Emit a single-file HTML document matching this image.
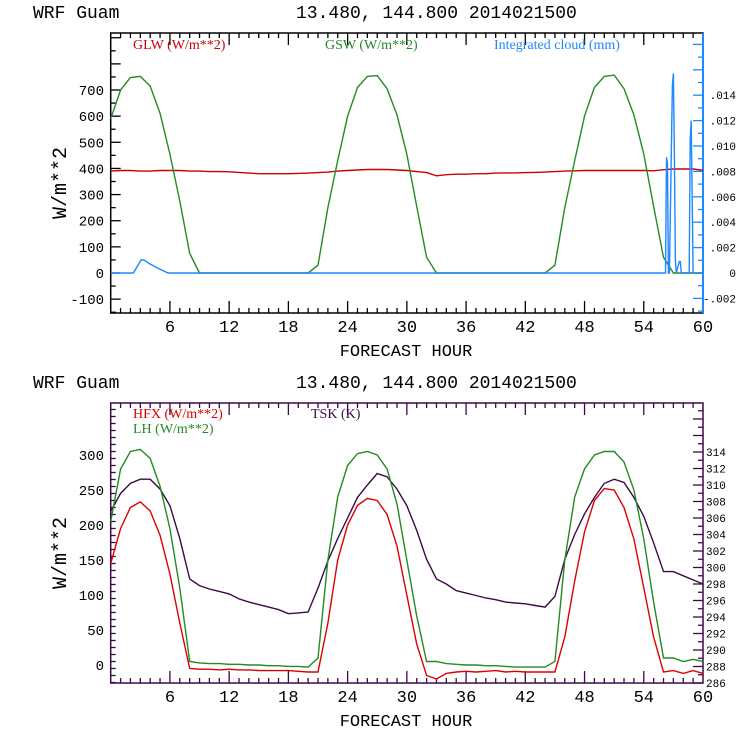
<!DOCTYPE html>
<html><head><meta charset="utf-8">
<style>
html,body{margin:0;padding:0;background:#fff;}
svg{display:block;}
text{font-family:"Liberation Mono",monospace;}
.leg{font-family:"Liberation Serif",serif;font-size:14px;}
</style></head>
<body>
<svg id="chart" width="740" height="740" viewBox="0 0 740 740" xmlns="http://www.w3.org/2000/svg">
<g id="top"></g>
<g id="bot"></g>
</svg>
<script>
// ---------- data ----------
const hours = Array.from({length:61},(_,i)=>i);
const gswValues = [590,700,748,752,715,610,455,275,75,0,0,0,0,0,0,0,0,0,0,0,0,30,250,430,600,710,752,755,705,605,455,255,60,0,0,0,0,0,0,0,0,0,0,0,0,30,250,430,600,710,752,757,705,605,455,255,60,0,0,0,0];
const glwValues = [390,392,392,390,390,392,392,392,390,390,388,388,387,385,382,380,380,380,380,381,382,384,386,390,392,394,396,396,396,394,392,388,384,372,376,378,378,380,380,382,383,383,384,385,386,388,390,391,392,392,392,392,392,392,392,391,395,398,398,398,393];
const cloudHours = [0,2.3,3.1,3.4,4,5,5.8,56.2,56.3,56.4,56.5,56.6,56.9,57.0,57.1,57.2,57.3,57.6,57.7,57.8,58.6,58.7,58.8,58.9,59.0,60];
const cloudValues = [0,0,0.00105,0.001,0.0007,0.0003,0,0,0.0091,0.0086,0,0,0.0148,0.0157,0.0092,0.001,0,0.0009,0.0009,0,0,0.0105,0.012,0.0065,0,0];
const hfxValues = [145,195,225,233,220,185,130,60,-5,-6,-6,-7,-6,-7,-7,-8,-8,-8,-8,-9,-10,-10,60,150,200,228,238,235,215,170,100,30,-15,-20,-12,-10,-9,-10,-9,-8,-10,-9,-10,-10,-10,-10,40,120,190,235,252,250,225,180,110,40,-10,-8,-12,-8,-12];
const lhValues = [205,280,305,308,295,255,195,110,5,3,2,2,1,1,0,0,-1,-1,-2,-2,-3,10,150,240,285,302,305,300,280,230,150,70,5,5,2,1,0,0,-1,-1,-2,-3,-3,-3,-3,5,150,240,280,300,305,305,290,250,180,90,10,10,5,8,5];
const tskValues = [306.8,309,310.2,310.7,310.7,309.5,307.5,303.5,298.6,297.8,297.4,297.1,296.8,296.2,295.8,295.5,295.2,294.9,294.4,294.5,294.6,297.5,300.8,303.5,306,308.5,310,311.4,311,309.5,307.5,304.5,301,298.6,298,297.2,296.9,296.6,296.3,296.1,295.8,295.7,295.6,295.4,295.2,296.5,301,304,306.5,308.5,310.2,310.7,310.3,308.5,306.2,303,299.5,299.5,299,298.5,298];
const xTicks = [6,12,18,24,30,36,42,48,54,60];
const topLeftTicks = [-100,0,100,200,300,400,500,600,700];
const topRightTicks = [-0.002,0,0.002,0.004,0.006,0.008,0.010,0.012,0.014];
const topRightLabels = ["-.002","0",".002",".004",".006",".008",".010",".012",".014"];
const botLeftTicks = [0,50,100,150,200,250,300];
const botRightTicks = [286,288,290,292,294,296,298,300,302,304,306,308,310,312,314];

// ---------- helpers ----------
const NS="http://www.w3.org/2000/svg";
function mk(parent,tag,attrs,txt){const e=document.createElementNS(NS,tag);for(const k in attrs)e.setAttribute(k,attrs[k]);if(txt!==undefined)e.textContent=txt;parent.appendChild(e);return e;}
const X0=110.7, X1=703;
const xs = h => X0 + (h/60)*(X1-X0);
function line(g,xsArr,ysArr,color,name){
  const pts=xsArr.map((v,i)=>v.toFixed(1)+","+ysArr[i].toFixed(1)).join(" ");
  const p=mk(g,"polyline",{points:pts,fill:"none",stroke:color,"stroke-width":1.4});
  
  
}
function panel(g,top,bottom,frameColor,rightColor){
  const t1=mk(g,"text",{x:33,y:top-15,"font-size":18,"xml:space":"preserve"},"WRF  Guam");
  
  const t2=mk(g,"text",{x:296,y:top-15,"font-size":18,"xml:space":"preserve"},"13.480, 144.800  2014021500");
  
  const r=mk(g,"rect",{x:X0,y:top,width:X1-X0,height:bottom-top,fill:"none",stroke:frameColor,"stroke-width":1.5});
  
  if(rightColor){const rl=mk(g,"line",{x1:X1,y1:top,x2:X1,y2:bottom,stroke:rightColor,"stroke-width":2});}
  for(let h=1;h<60;h++){
    const big=h%6===0, L=big?12:5;
    mk(g,"line",{x1:xs(h),y1:bottom,x2:xs(h),y2:bottom-L,stroke:frameColor,"stroke-width":1.3});
    mk(g,"line",{x1:xs(h),y1:top,x2:xs(h),y2:top+L,stroke:frameColor,"stroke-width":1.3});
  }
  xTicks.forEach(h=>{const t=mk(g,"text",{x:xs(h),y:bottom+19,"font-size":17,"text-anchor":"middle"},String(h));});
  const xl=mk(g,"text",{x:406,y:bottom+43,"font-size":17,"text-anchor":"middle"},"FORECAST HOUR");
  
  const yl=mk(g,"text",{x:0,y:0,"font-size":20,"text-anchor":"middle",transform:`translate(66,${(top+bottom)/2+10}) rotate(-90)`},"W/m**2");
  
}

// ---------- top panel ----------
(function(){
  const g=document.getElementById("top");
  const T=33,B=313;
  panel(g,T,B,"#000","#1e88ff");
  const yL=v=>273 - v*0.2614;
  const yR=v=>273 - v*12700;
  for(let v=-150;v<=900;v+=50){const y=yL(v);if(y<T||y>B)continue;mk(g,"line",{x1:X0,y1:y,x2:X0+(v%100===0?10:5),y2:y,stroke:"#000","stroke-width":1.3});}
  topLeftTicks.forEach(v=>{const t=mk(g,"text",{x:104,y:yL(v)+5,"font-size":14,"text-anchor":"end"},String(v));});
  for(let i=-3;i<=19;i++){const v=i*0.001,y=yR(v);if(y<T||y>B)continue;mk(g,"line",{x1:X1,y1:y,x2:X1-(i%2===0?10:5),y2:y,stroke:"#1e88ff","stroke-width":1.3});}
  topRightTicks.forEach((v,i)=>{const t=mk(g,"text",{x:736,y:yR(v)+4,"font-size":11,"text-anchor":"end"},topRightLabels[i]);});
  line(g,hours.map(xs),glwValues.map(yL),"#cc0000","glw-line");
  line(g,hours.map(xs),gswValues.map(yL),"#228b22","gsw-line");
  line(g,cloudHours.map(xs),cloudValues.map(yR),"#1e88ff","cloud-line");
  const l1=mk(g,"text",{x:133,y:49,class:"leg",fill:"#cc0000"},"GLW (W/m**2)");
  const l2=mk(g,"text",{x:325,y:49,class:"leg",fill:"#228b22"},"GSW (W/m**2)");
  const l3=mk(g,"text",{x:494,y:49,class:"leg",fill:"#1e88ff"},"Integrated cloud (mm)");
})();

// ---------- bottom panel ----------
(function(){
  const g=document.getElementById("bot");
  const T=403,B=683,P="#3c0a46";
  panel(g,T,B,P,null);
  const yL=v=>665 - v*0.7;
  const yR=v=>683 - (v-286)*8.25;
  for(let v=-25;v<=400;v+=10){const y=yL(v);if(y<T||y>B)continue;mk(g,"line",{x1:X0,y1:y,x2:X0+(v%50===0?10:5),y2:y,stroke:P,"stroke-width":1.3});}
  botLeftTicks.forEach(v=>{const t=mk(g,"text",{x:104,y:yL(v)+5,"font-size":14,"text-anchor":"end"},String(v));});
  for(let v=286;v<=320;v+=1){const y=yR(v);if(y<T||y>B)continue;mk(g,"line",{x1:X1,y1:y,x2:X1-(v%2===0?10:5),y2:y,stroke:P,"stroke-width":1.3});}
  botRightTicks.forEach(v=>{const t=mk(g,"text",{x:706,y:yR(v)+4,"font-size":11},String(v));});
  line(g,hours.map(xs),tskValues.map(yR),P,"tsk-line");
  line(g,hours.map(xs),lhValues.map(yL),"#228b22","lh-line");
  line(g,hours.map(xs),hfxValues.map(yL),"#dd0000","hfx-line");
  const l1=mk(g,"text",{x:133,y:418,class:"leg",fill:"#dd0000"},"HFX (W/m**2)");
  const l2=mk(g,"text",{x:133,y:433,class:"leg",fill:"#228b22","xml:space":"preserve"},"LH  (W/m**2)");
  const l3=mk(g,"text",{x:311,y:418,class:"leg",fill:P},"TSK (K)");
})();
</script>
</body></html>
